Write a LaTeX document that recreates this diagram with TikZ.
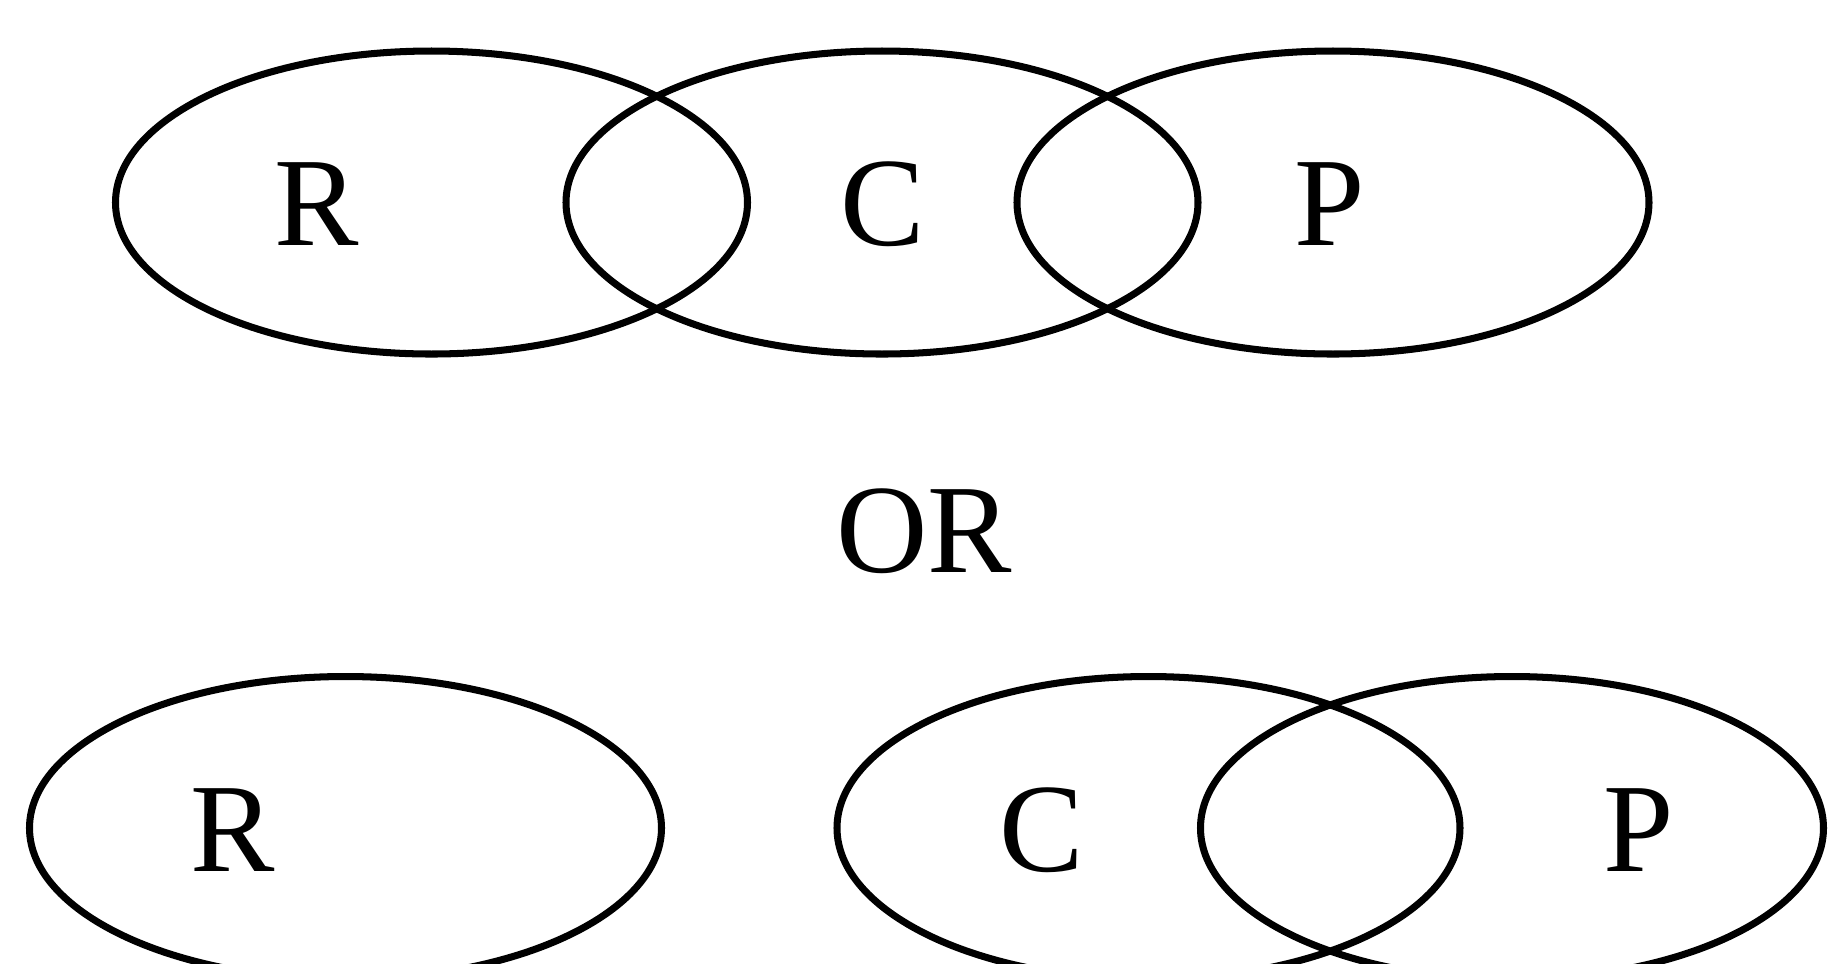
\documentclass[tikz,border=0pt]{standalone}
\usepackage{fontspec}
\setmainfont{Liberation Serif}
\usetikzlibrary{shapes.geometric, positioning}

\begin{document}
\begin{tikzpicture}[
    set/.style={draw, ellipse, line width=2pt, minimum width=6.32cm, minimum height=3.03cm, inner sep=0pt, outer sep=0pt},
    lbl/.style={font=\fontsize{36}{40}\selectfont, inner sep=0pt},
]
    \useasboundingbox (0,0) rectangle (18.29,-9.63);
    % top row: overlapping sets
    \node[set] (rtop) at (4.315, -2.025) {};
    \node[set] (ctop) at (8.82, -2.025) {};
    \node[set] (ptop) at (13.33, -2.025) {};
    \node[lbl] (rtoplbl) at (3.17, -2.04) {R};
    \node[lbl] (ctoplbl) at (8.83, -2.04) {C};
    \node[lbl] (ptoplbl) at (13.30, -2.04) {P};

    \node[lbl] (or) at (9.24, -5.31) {OR};

    % bottom row: R apart
    \node[set] (rbot) at (3.455, -8.28) {};
    \node[set, minimum width=6.23cm] (cbot) at (11.485, -8.28) {};
    \node[set, minimum width=6.23cm] (pbot) at (15.12, -8.28) {};
    \node[lbl] (rbotlbl) at (2.33, -8.30) {R};
    \node[lbl] (cbotlbl) at (10.42, -8.30) {C};
    \node[lbl] (pbotlbl) at (16.39, -8.30) {P};
\end{tikzpicture}
\end{document}
